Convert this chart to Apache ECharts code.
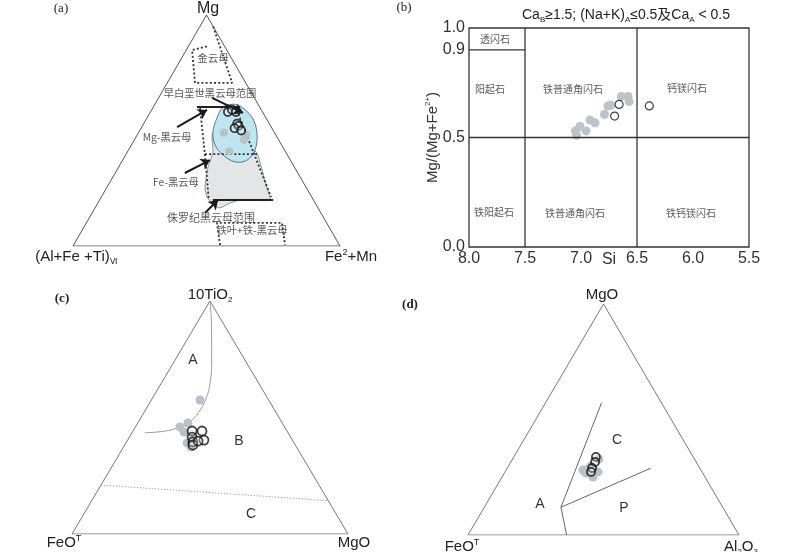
<!DOCTYPE html>
<html><head><meta charset="utf-8">
<script src="https://cdn.jsdelivr.net/npm/echarts@6/dist/echarts.min.js"></script>
<style>html,body{margin:0;padding:0;background:#fff}#c{width:800px;height:552px}</style>
</head><body><div id="c"></div>
<script>
// ===== DATA =====
// (a) biotite compositions [Mg, (Al+Fe+Ti)vi, Fe2+ + Mn] (%)
const A_OPEN = [[58,13,29],[59,11,30],[58,10,32],[53,12,35],[52,12,36],[51,14,35],[50,12,38]];
const A_GRAY = [[49,19,32],[46,13,41],[48,11,41],[41,21,38]];
const A_PHLOGOPITE = [[95,0,5],[70.6,5.1,24.3],[70.6,19,10.4],[84.8,13,2.2],[86.6,6.1,7.3]];
const A_MGBT_LEFT = [[59.7,22.6,17.7],[39.8,30.7,29.5],[19.9,39.2,40.9]];
const A_MGBT_MID = [[39.8,30.7,29.5],[39.8,11.2,49]];
const A_MGBT_RIGHT = [[58.9,9.2,31.9],[21.2,15.2,63.6]];
const A_TOP_SOLID = [[60.2,23.5,16.3],[60.2,7.4,32.4]];
const A_BOTTOM_SOLID = [[19.9,37.7,42.4],[19.9,15.1,65]];
const A_SIDEROPHYLLITE = [[0.4,44.7,54.9],[10,41.1,48.9],[10,16.7,73.3],[0.4,20.4,79.2]];
const A_CRETACEOUS = [[61.0,11.8,27.2],[61.0,7.7,31.3],[55.8,5.1,39.1],[48.9,6.65,44.45],[41.6,11.0,47.4],[37.2,16.2,46.6],[36.4,21.1,42.5],[39.4,24.1,36.5],[43.7,24.95,31.35],[49.4,22.9,27.7],[55.4,18.4,26.2],[59.7,14.35,25.95]];
const A_JURASSIC = [[50.2,20.6,29.2],[48.5,23.65,27.85],[40.7,27.25,32.05],[34.2,32.3,33.5],[25.5,37.85,36.65],[21.2,39.2,39.6],[17.7,38.75,43.55],[16.5,36.65,46.85],[18.6,31.9,49.5],[19.9,27.55,52.55],[19.9,16.25,63.85],[26.4,14.5,59.1],[40.3,10.95,48.75],[43.7,13.75,42.55],[48.1,19.05,32.85]];
const A_ARROWS = [
  [[64.1,15.85,20.05],[57.6,7.5,34.9]],
  [[51.5,35.25,13.25],[58.9,20.35,20.75]],
  [[31.6,42.3,26.1],[37.2,30.1,32.7]],
  [[14.3,43.45,42.25],[19.9,35.75,44.35]]
];
// (b) amphibole Si vs Mg/(Mg+Fe2+)
const B_SI_GRAY = [7.05,7.04,7.01,6.955,6.92,6.875,6.79,6.76,6.735,6.64,6.58,6.57];
const B_MG_GRAY = [0.53,0.51,0.55,0.53,0.58,0.567,0.605,0.644,0.647,0.687,0.687,0.664];
const B_SI_OPEN = [6.70,6.66,6.39];
const B_MG_OPEN = [0.598,0.651,0.644];
const B_SI_BOUNDS = [7.5,6.5];
const B_MG_BOUND = 0.5;
const B_TREM_LINE = [[8.0,0.9],[7.5,0.9]];
const B_X_TICKS = [8.0,7.5,7.0,6.5,6.0,5.5];
const B_Y_TICKS = [0.0,0.5,0.9,1.0];
// (c) compositions [10TiO2, FeOT, MgO] (%)
const C_GRAY = [[57.5,24.85,17.65],[45.9,37.95,16.15],[47.6,34.2,18.2],[43.8,37.5,18.7],[39.1,38.75,22.15],[37.3,38.25,24.45],[41.2,35.6,23.2]];
const C_OPEN = [[44.2,34.4,21.4],[44.2,30.8,25.0],[41.6,35.7,22.7],[39.5,36.45,24.05],[40.3,32.05,27.65],[38.2,37.1,24.7],[39.9,34.35,25.75]];
const C_CURVE = [[100,0,0],[87.55,5.65,6.8],[73.3,12.75,13.95],[64.7,17.65,17.65],[58.9,21.75,19.35],[53.2,27.0,19.8],[48.2,33.15,18.65],[45.4,39.4,15.2],[43.9,46.15,9.95],[43.5,51.85,4.65]];
const C_DOTTED = [[21,79,0],[14.3,0,85.7]];
// (d) compositions [MgO, FeOT, Al2O3] (%)
const D_JUNCTION = [12.0,59.7,28.3];
const D_ENDS = [[0,63.6,36.4],[57.3,22.05,20.65],[28.9,18.15,52.95]];
const D_OPEN = [[33.8,35.9,30.3],[31.6,37.3,31.1],[29.0,39.7,31.3],[27.3,40.95,31.75]];
const D_GRAY = [[26.8,43.1,30.1],[25.1,41.35,33.55],[27.3,38.35,34.35],[28.6,41.4,30.0],[32.9,35.25,31.85],[29.9,39.65,30.45],[28.1,43.55,28.35]];
const TRI_VERTS = [[0,100,0],[100,0,0],[0,0,100],[0,100,0]];

// ===== HELPERS =====
function tern(p){const s=p[0]+p[1]+p[2];const t=p[0]/s,r=p[2]/s;return [r+t/2,t];}
const LAT='Liberation Sans, Arial, sans-serif';
const CJK='Noto Sans CJK SC, sans-serif';
const SER='Liberation Serif, Times New Roman, serif';
const series=[];
function line(gi,pts,color,width,type,z,smooth){
  series.push({type:'line',xAxisIndex:gi,yAxisIndex:gi,data:pts.map(tern),symbol:'none',smooth:!!smooth,
    lineStyle:{color:color,width:width,type:type||'solid'},silent:true,z:z||2,animation:false});
}
function poly(gi,pts,fill,stroke,z,smooth){
  series.push({type:'custom',xAxisIndex:gi,yAxisIndex:gi,coordinateSystem:'cartesian2d',data:[[0.5,0.5]],silent:true,z:z,animation:false,
    renderItem:function(params,api){return {type:'polygon',shape:{points:pts.map(p=>api.coord(tern(p))),smooth:smooth||0},style:{fill:fill,stroke:stroke,lineWidth:1}};}});
}
function dots(gi,pts,open,size,z){
  series.push({type:'scatter',xAxisIndex:gi,yAxisIndex:gi,data:pts.map(tern),symbol:'circle',symbolSize:size,silent:true,z:z,animation:false,
    itemStyle:open?{color:'rgba(255,255,255,0.35)',borderColor:'#111',borderWidth:1.8}:{color:'#b9c1c7',opacity:1}});
}

// ===== PANEL (a) =====
poly(0,A_JURASSIC,'#e4e5e7','#8d939a',1,0.15);
poly(0,A_CRETACEOUS,'#bfe6f0','#56789a',2,0.35);
line(0,TRI_VERTS,'#555',1,'solid',3);
[A_PHLOGOPITE,A_MGBT_LEFT,A_MGBT_MID,A_MGBT_RIGHT,A_SIDEROPHYLLITE].forEach(p=>line(0,p,'#333',1.8,[2,2.2],4));
line(0,A_TOP_SOLID,'#222',2,'solid',4);
line(0,A_BOTTOM_SOLID,'#222',2,'solid',4);
dots(0,A_GRAY,false,8,5);
dots(0,A_OPEN,true,8,6);
series.push({type:'lines',coordinateSystem:'cartesian2d',xAxisIndex:0,yAxisIndex:0,symbol:['none','arrow'],symbolSize:9,silent:true,z:7,animation:false,
  lineStyle:{color:'#1a1a1a',width:2,opacity:1},data:A_ARROWS.map(a=>({coords:a.map(tern)}))});

// ===== PANEL (b) =====
B_SI_BOUNDS.forEach(s=>series.push({type:'line',xAxisIndex:1,yAxisIndex:1,data:[[s,0],[s,1]],symbol:'none',silent:true,animation:false,lineStyle:{color:'#333',width:1.3}}));
series.push({type:'line',xAxisIndex:1,yAxisIndex:1,data:[[8.0,B_MG_BOUND],[5.5,B_MG_BOUND]],symbol:'none',silent:true,animation:false,lineStyle:{color:'#333',width:1.3}});
series.push({type:'line',xAxisIndex:1,yAxisIndex:1,data:B_TREM_LINE,symbol:'none',silent:true,animation:false,lineStyle:{color:'#333',width:1.3}});
series.push({type:'scatter',xAxisIndex:1,yAxisIndex:1,data:B_SI_GRAY.map((s,i)=>[s,B_MG_GRAY[i]]),symbolSize:9,silent:true,animation:false,itemStyle:{color:'#bcc3c9',opacity:1}});
series.push({type:'scatter',xAxisIndex:1,yAxisIndex:1,data:B_SI_OPEN.map((s,i)=>[s,B_MG_OPEN[i]]),symbolSize:8,silent:true,animation:false,z:3,itemStyle:{color:'#fff',borderColor:'#111',borderWidth:1.2}});

// ===== PANEL (c) =====
line(2,TRI_VERTS,'#777',1,'solid',2);
line(2,C_CURVE,'#999',1,'solid',2,0.5);
line(2,C_DOTTED,'#aaa',1,[1.5,1.5],2);
dots(2,C_GRAY,false,9,4);
dots(2,C_OPEN,true,9,5);

// ===== PANEL (d) =====
line(3,TRI_VERTS,'#777',1,'solid',2);
D_ENDS.forEach(e=>line(3,[D_JUNCTION,e],'#666',1,'solid',2));
dots(3,D_GRAY,false,9,4);
dots(3,D_OPEN,true,8,5);

// ===== AXES =====
const grids=[
  {left:73,top:15,width:267,height:231},
  {left:469,top:28,width:280,height:219,show:true,borderColor:'#333',borderWidth:1.3,backgroundColor:'transparent'},
  {left:72,top:301,width:276,height:233},
  {left:468,top:304,width:271,height:231}
];
const hidX=i=>({gridIndex:i,type:'value',min:0,max:1,show:false});
const hidY=i=>({gridIndex:i,type:'value',min:0,max:1,show:false});
const near=(v,arr)=>arr.some(t=>Math.abs(t-v)<1e-6);
const xAxis=[hidX(0),{gridIndex:1,type:'value',min:5.5,max:8.0,interval:0.5,inverse:true,
  axisLine:{show:false},axisTick:{show:false},splitLine:{show:false},
  axisLabel:{fontSize:16,color:'#333',fontFamily:LAT,margin:4,formatter:v=>near(v,B_X_TICKS)?v.toFixed(1):''},
  name:'Si',nameLocation:'middle',nameGap:5,nameMoveOverlap:false,nameTextStyle:{fontSize:16,color:'#333',fontFamily:LAT}},hidX(2),hidX(3)];
const yAxis=[hidY(0),{gridIndex:1,type:'value',min:0,max:1,interval:0.1,
  axisLine:{show:false},axisTick:{show:false},splitLine:{show:false},
  axisLabel:{fontSize:16,color:'#333',fontFamily:LAT,margin:4,formatter:v=>near(v,B_Y_TICKS)?v.toFixed(1):''},
  name:'{n|Mg/(Mg+Fe}{p|2+}{n|)}',nameLocation:'middle',nameGap:27,nameRotate:90,nameMoveOverlap:false,
  nameTextStyle:{fontFamily:LAT,color:'#333',rich:{n:{fontSize:15,fontFamily:LAT,color:'#333',lineHeight:18},p:{fontSize:8,fontFamily:LAT,color:'#333',verticalAlign:'top',lineHeight:18}}}},hidY(2),hidY(3)];

// ===== TEXT =====
function T(x,y,text,size,font,fill,extra){
  const st=Object.assign({text:text,fontSize:size,fontFamily:font,fill:fill||'#222',textAlign:'center',textVerticalAlign:'middle',align:'center',verticalAlign:'middle'},extra||{});
  return {type:'text',x:x,y:y,z:100,silent:true,style:st};
}
const cn='#5a5a5a';
const richNS=(sz)=>({n:{fontSize:sz,fontFamily:LAT+', '+CJK,fill:'#222',lineHeight:sz+3},s:{fontSize:8,fontFamily:LAT,fill:'#222',verticalAlign:'bottom',lineHeight:sz+3},p:{fontSize:9,fontFamily:LAT,fill:'#222',verticalAlign:'top',lineHeight:sz+3}});
const graphic=[
  // (a)
  T(61,9,'(a)',13,SER,'#222'),
  T(208,9,'Mg',16,LAT,'#222'),
  T(76,257,'{n|(Al+Fe +Ti)}{s|Ⅵ}',15,LAT,'#222',{rich:richNS(15)}),
  T(351,257,'{n|Fe}{p|2}{n|+Mn}',15,LAT,'#222',{rich:richNS(15)}),
  T(213,58,'金云母',10.5,CJK,cn),
  T(210,93,'早白垩世黑云母范围',10.3,CJK,cn),
  T(167,137,'Mg-黑云母',10.3,CJK,cn),
  T(176,182,'Fe-黑云母',10.3,CJK,cn),
  T(211,218,'侏罗纪黑云母范围',11,CJK,cn),
  T(252,230,'铁叶+铁-黑云母',10.3,CJK,cn),
  // (b)
  T(404,8,'(b)',13,SER,'#222'),
  T(626,15,'{n|Ca}{s|B}{n|≥1.5; (Na+K)}{s|A}{n|≤0.5及Ca}{s|A}{n| < 0.5}',14,LAT,'#222',{rich:richNS(14)}),
  T(495,39,'透闪石',10,CJK,cn),
  T(490,89,'阳起石',10,CJK,cn),
  T(573,89,'铁普通角闪石',10,CJK,cn),
  T(687,88,'钙镁闪石',10,CJK,cn),
  T(494,212,'铁阳起石',10,CJK,cn),
  T(575,213,'铁普通角闪石',10,CJK,cn),
  T(691,213,'铁钙镁闪石',10,CJK,cn),
  // (c)
  T(62,299,'(c)',13,SER,'#222',{fontWeight:'bold'}),
  T(210,295,'{n|10TiO}{s|2}',15,LAT,'#222',{rich:richNS(15)}),
  T(193,360,'A',14,LAT,'#333'),
  T(239,441,'B',14,LAT,'#333'),
  T(251,514,'C',14,LAT,'#333'),
  T(64,543,'{n|FeO}{p|T}',15,LAT,'#222',{rich:richNS(15)}),
  T(354,543,'MgO',15,LAT,'#222'),
  // (d)
  T(410,305,'(d)',13,SER,'#222',{fontWeight:'bold'}),
  T(602,295,'MgO',15,LAT,'#222'),
  T(617,440,'C',14,LAT,'#333'),
  T(540,504,'A',14,LAT,'#333'),
  T(624,508,'P',14,LAT,'#333'),
  T(462,547,'{n|FeO}{p|T}',15,LAT,'#222',{rich:richNS(15)}),
  T(741,547,'{n|Al}{s|2}{n|O}{s|3}',15,LAT,'#222',{rich:richNS(15)})
];

const chart=echarts.init(document.getElementById('c'),null,{renderer:'canvas'});
chart.setOption({backgroundColor:'#fff',animation:false,grid:grids,xAxis:xAxis,yAxis:yAxis,series:series,graphic:graphic});
</script></body></html>
